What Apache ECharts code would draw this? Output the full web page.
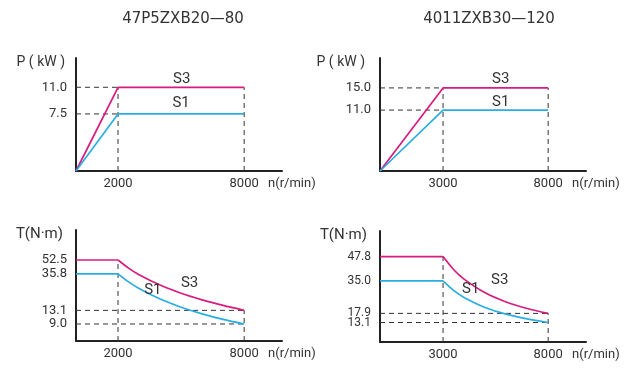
<!DOCTYPE html>
<html>
<head>
<meta charset="utf-8">
<script src="https://cdn.jsdelivr.net/npm/echarts@6/dist/echarts.min.js"></script>
<style>html,body{margin:0;padding:0;background:#fff;}#c{width:640px;height:369px;}</style>
</head>
<body>
<div id="c"></div>
<script>
// ---- Data: motor 47P5ZXB20—80 ----
const titleA = '47P5ZXB20—80';
const speedA = [0, 2000, 8000];
const powerS3A = [0, 11.0, 11.0];
const powerS1A = [0, 7.5, 7.5];
const torqueSpeedA = [2000, 2500, 3000, 4000, 5000, 6000, 7000, 8000];
const torqueS3A = [52.5, 42.0, 35.0, 26.3, 21.0, 17.5, 15.0, 13.1];
const torqueS1A = [35.8, 28.7, 23.9, 17.9, 14.3, 11.9, 10.2, 9.0];
const speedTicksA = [2000, 8000];
const powerTicksA = [7.5, 11.0];
const torqueTicksA = [9.0, 13.1, 35.8, 52.5];

// ---- Data: motor 4011ZXB30—120 ----
const titleB = '4011ZXB30—120';
const speedB = [0, 3000, 8000];
const powerS3B = [0, 15.0, 15.0];
const powerS1B = [0, 11.0, 11.0];
const torqueSpeedB = [3000, 3500, 4000, 5000, 6000, 7000, 8000];
const torqueS3B = [47.8, 41.0, 35.9, 28.7, 23.9, 20.5, 17.9];
const torqueS1B = [35.0, 30.0, 26.3, 21.0, 17.5, 15.0, 13.1];
const speedTicksB = [3000, 8000];
const powerTicksB = [11.0, 15.0];
const torqueTicksB = [13.1, 17.9, 35.0, 47.8];

const seriesNames = ['S3', 'S1'];

// ---- Styling ----
const FONT = 'Roboto, "Noto Sans", sans-serif';
const TFONT = '"DejaVu Sans", sans-serif';
const TXT = '#333';
const MAGENTA = '#d81b7e';
const CYAN = '#2aaee2';
const AXIS = '#222';

const chart = echarts.init(document.getElementById('c'), null, {renderer: 'canvas'});

const fmt = v => Number(v).toFixed(1);
// order labels so that the library's first/last-label overlap pruning does not drop closely spaced ticks
const spreadOrder = t => t.length === 4 ? [t[0], t[2], t[1], t[3]] : t;

function xAxisDef(grid, ticks) {
  return {
    type: 'value', gridIndex: grid, min: 0, max: 9800,
    name: 'n(r/min)', nameLocation: 'end', nameGap: -14,
    nameTextStyle: {color: TXT, fontFamily: FONT, fontSize: 13, align: 'left', verticalAlign: 'top', padding: [6, 0, 0, 0]},
    axisLine: {show: true, onZero: false, lineStyle: {color: AXIS, width: 2}},
    axisTick: {show: false},
    splitLine: {show: false},
    axisLabel: {customValues: ticks, formatter: v => String(v), showMinLabel: true, showMaxLabel: true,
      color: TXT, fontFamily: FONT, fontSize: 13, margin: 6}
  };
}
function yAxisDef(grid, name, ticks, min, max, type, padRight, nameSize, labelSize) {
  return {
    type: type, gridIndex: grid, min: min, max: max,
    name: name, nameLocation: 'end', nameGap: -4,
    nameTextStyle: {color: TXT, fontFamily: FONT, fontSize: nameSize, align: 'right', verticalAlign: 'middle', padding: [0, padRight, 0, 0]},
    axisLine: {show: true, onZero: false, lineStyle: {color: AXIS, width: 2}},
    axisTick: {show: false},
    splitLine: {show: false},
    minorSplitLine: {show: false},
    axisLabel: {customValues: spreadOrder(ticks), formatter: fmt, hideOverlap: false, showMinLabel: true, showMaxLabel: true,
      color: TXT, fontFamily: FONT, fontSize: labelSize, margin: 9}
  };
}

const series = [];
function guide(ax, pts) {
  series.push({type: 'line', xAxisIndex: ax, yAxisIndex: ax, data: pts, symbol: 'none', silent: true, z: 1,
    lineStyle: {color: '#333', width: 1, type: [5, 4]}});
}
function curve(ax, xs, ys, color, smooth, label, labelCoord) {
  const s = {type: 'line', xAxisIndex: ax, yAxisIndex: ax, data: xs.map((x, i) => [x, ys[i]]),
    symbol: 'none', smooth: smooth, z: 3, silent: true,
    lineStyle: {color: color, width: 1.7}};
  if (label) {
    s.markPoint = {symbol: 'circle', symbolSize: 0, silent: true,
      label: {show: true, position: 'inside', color: TXT, fontFamily: FONT, fontSize: 15},
      data: [{coord: labelCoord, value: label, label: {formatter: label}}]};
  }
  series.push(s);
}

// Panel 0: power A
guide(0, [[0, powerS3A[1]], [speedA[1], powerS3A[1]]]);
guide(0, [[0, powerS1A[1]], [speedA[1], powerS1A[1]]]);
guide(0, [[speedA[1], 0], [speedA[1], powerS3A[1]]]);
guide(0, [[speedA[2], 0], [speedA[2], powerS3A[2]]]);
curve(0, speedA, powerS3A, MAGENTA, false, seriesNames[0], [5030, 12.1]);
curve(0, speedA, powerS1A, CYAN, false, seriesNames[1], [5000, 8.9]);

// Panel 1: power B
guide(1, [[0, powerS3B[1]], [speedB[1], powerS3B[1]]]);
guide(1, [[0, powerS1B[1]], [speedB[1], powerS1B[1]]]);
guide(1, [[speedB[1], 0], [speedB[1], powerS3B[1]]]);
guide(1, [[speedB[2], 0], [speedB[2], powerS3B[2]]]);
curve(1, speedB, powerS3B, MAGENTA, false, seriesNames[0], [5745, 16.6]);
curve(1, speedB, powerS1B, CYAN, false, seriesNames[1], [5745, 12.5]);

// Panel 2: torque A (log scale)
const tMinA = 5.63, tMaxA = 120;
const lastA = torqueSpeedA.length - 1;
guide(2, [[0, torqueS3A[lastA]], [torqueSpeedA[lastA], torqueS3A[lastA]]]);
guide(2, [[0, torqueS1A[lastA]], [torqueSpeedA[lastA], torqueS1A[lastA]]]);
guide(2, [[torqueSpeedA[0], tMinA], [torqueSpeedA[0], torqueS3A[0]]]);
guide(2, [[torqueSpeedA[lastA], tMinA], [torqueSpeedA[lastA], torqueS3A[lastA]]]);
curve(2, [0, torqueSpeedA[0]], [torqueS3A[0], torqueS3A[0]], MAGENTA, false);
curve(2, [0, torqueSpeedA[0]], [torqueS1A[0], torqueS1A[0]], CYAN, false);
curve(2, torqueSpeedA, torqueS3A, MAGENTA, 0.3, seriesNames[0], [5405, 27.5]);
curve(2, torqueSpeedA, torqueS1A, CYAN, 0.3, seriesNames[1], [3657, 23.0]);

// Panel 3: torque B
const tMinB = 2.84, tMaxB = 61.26;
const lastB = torqueSpeedB.length - 1;
guide(3, [[0, torqueS3B[lastB]], [torqueSpeedB[lastB], torqueS3B[lastB]]]);
guide(3, [[0, torqueS1B[lastB]], [torqueSpeedB[lastB], torqueS1B[lastB]]]);
guide(3, [[torqueSpeedB[0], tMinB], [torqueSpeedB[0], torqueS3B[0]]]);
guide(3, [[torqueSpeedB[lastB], tMinB], [torqueSpeedB[lastB], torqueS3B[lastB]]]);
curve(3, [0, torqueSpeedB[0]], [torqueS3B[0], torqueS3B[0]], MAGENTA, false);
curve(3, [0, torqueSpeedB[0]], [torqueS1B[0], torqueS1B[0]], CYAN, false);
curve(3, torqueSpeedB, torqueS3B, MAGENTA, 0.3, seriesNames[0], [5697, 35.5]);
curve(3, torqueSpeedB, torqueS1B, CYAN, 0.3, seriesNames[1], [4315, 30.8]);

chart.setOption({
  animation: false,
  backgroundColor: '#fff',
  title: [
    {text: titleA, left: 178, top: 7, textAlign: 'center', textStyle: {color: TXT, fontFamily: TFONT, fontSize: 15, fontWeight: 'normal'}},
    {text: titleB, left: 484, top: 7, textAlign: 'center', textStyle: {color: TXT, fontFamily: TFONT, fontSize: 15, fontWeight: 'normal'}}
  ],
  grid: [
    {left: 76, width: 206, top: 58, height: 113},
    {left: 380, width: 206, top: 58, height: 113},
    {left: 76, width: 206, top: 230, height: 111},
    {left: 380, width: 206, top: 231, height: 111}
  ],
  xAxis: [
    xAxisDef(0, speedTicksA), xAxisDef(1, speedTicksB), xAxisDef(2, speedTicksA), xAxisDef(3, speedTicksB)
  ],
  yAxis: [
    yAxisDef(0, 'P ( kW )', powerTicksA, 0, 14.85, 'value', 11, 14, 13),
    yAxisDef(1, 'P ( kW )', powerTicksB, 0, 20.4, 'value', 15, 14, 13),
    yAxisDef(2, 'T(N·m)', torqueTicksA, tMinA, tMaxA, 'log', 13, 15, 13),
    yAxisDef(3, 'T(N·m)', torqueTicksB, tMinB, tMaxB, 'value', 13, 15, 12)
  ],
  series: series
});
</script>
</body>
</html>
